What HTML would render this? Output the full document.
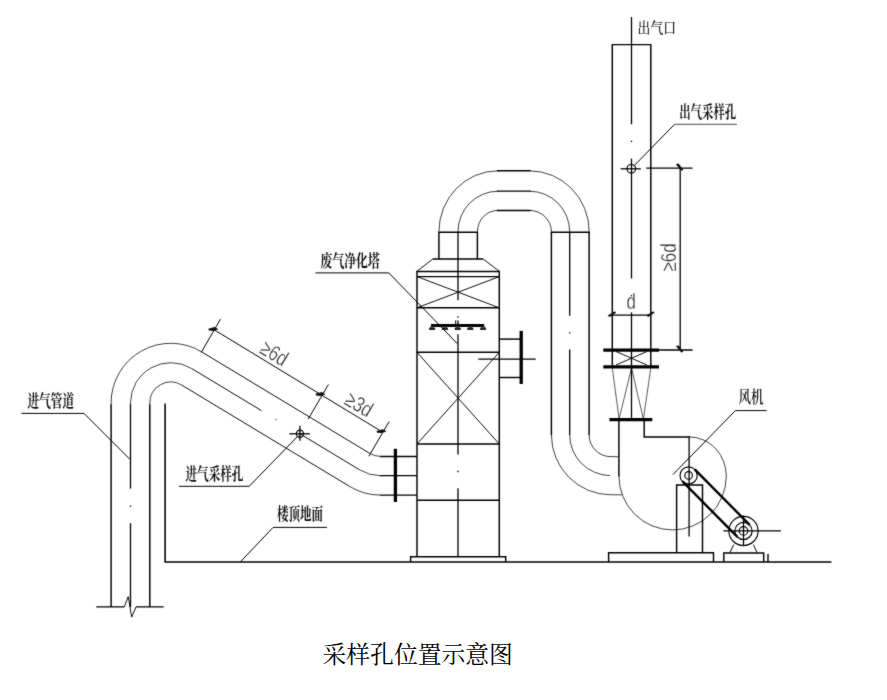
<!DOCTYPE html>
<html lang="zh-CN">
<head>
<meta charset="utf-8">
<title>采样孔位置示意图</title>
<style>
html,body{margin:0;padding:0;background:#fff;}
body{width:887px;height:700px;overflow:hidden;position:relative;}
svg{display:block;position:absolute;left:0;top:0;}
.caption{position:absolute;left:322.5px;top:637.2px;width:192px;margin:0;white-space:nowrap;line-height:36px;height:36px;font-family:"Liberation Serif","Noto Serif CJK SC",serif;font-size:23.8px;color:#000;}
svg *{fill:none;}
.h{stroke:#000;stroke-width:1.45;}
.g{stroke:#000;stroke-width:1.55;}
.c{stroke:#000;stroke-width:1.3;}
.d{stroke:#000;stroke-width:0.95;}
.a{stroke:#000;stroke-width:0.75;}
.a2{stroke:#000;stroke-width:1.15;}
.t{stroke:#000;stroke-width:1.0;}
.t2{stroke:#000;stroke-width:0.7;}
.t3{stroke:#000;stroke-width:0.65;}
.k{stroke:#000;stroke-width:3.3;}
.k2{stroke:#000;stroke-width:3.1;}
.b{stroke:#000;stroke-width:2.4;}
svg .f{fill:#111;stroke:none;}
svg .n{fill:#444;stroke:none;}
.k1{stroke:#000;stroke-width:1.7;}
svg text{fill:#111;stroke:none;}
.cj{font-family:"Liberation Serif","Noto Serif CJK SC",serif;font-size:17px;font-weight:700;}
.cj2{font-family:"Liberation Serif","Noto Serif CJK SC",serif;font-size:16.5px;font-weight:600;}
.cj3{font-family:"Liberation Serif","Noto Serif CJK SC",serif;font-size:15px;font-weight:500;}
svg .dm{font-family:"Liberation Sans",sans-serif;font-size:21.5px;fill:#1a1a1a;stroke:#fff;stroke-width:0.3;}
</style>
</head>
<body>
<svg width="887" height="700" viewBox="0 0 887 700">
<defs><filter id="soft" x="0" y="0" width="887" height="700" filterUnits="userSpaceOnUse"><feColorMatrix type="saturate" values="0"/><feConvolveMatrix order="3" kernelMatrix="0.02 0.07 0.02 0.07 0.64 0.07 0.02 0.07 0.02" divisor="1" edgeMode="duplicate" preserveAlpha="false"/></filter></defs>
<rect x="0" y="0" width="887" height="700" style="fill:#fff"/>
<g filter="url(#soft)">
<!-- inlet pipe -->
<line class="h" x1="111.10" y1="404.20" x2="111.10" y2="606.90"/>
<line class="h" x1="149.80" y1="404.20" x2="149.80" y2="606.90"/>
<line class="a" x1="111.10" y1="403.00" x2="111.10" y2="404.60"/>
<line class="a" x1="149.80" y1="403.00" x2="149.80" y2="404.60"/>
<line class="a" x1="130.50" y1="403.00" x2="130.50" y2="404.60"/>
<path class="a" d="M111.10,403.00 A59.7,59.7 0 0 1 201.63,351.88"/>
<line class="d" x1="201.63" y1="351.88" x2="369.76" y2="453.38"/>
<path class="a" d="M369.76,453.38 A21.0,21.0 0 0 0 380.60,456.40"/>
<line class="h" x1="380.10" y1="456.40" x2="416.90" y2="456.40"/>
<path class="a" d="M149.80,403.00 A21.0,21.0 0 0 1 181.64,385.02"/>
<line class="d" x1="181.64" y1="385.02" x2="349.77" y2="486.52"/>
<path class="a" d="M349.77,486.52 A59.7,59.7 0 0 0 380.60,495.10"/>
<line class="h" x1="380.10" y1="495.10" x2="416.90" y2="495.10"/>
<line class="c" x1="130.50" y1="606.90" x2="130.50" y2="523.20"/>
<line class="c" x1="130.50" y1="505.50" x2="130.50" y2="506.90"/>
<line class="c" x1="130.50" y1="488.60" x2="130.50" y2="404.20"/>
<path class="a" d="M130.50,403.00 A40.3,40.3 0 0 1 191.61,368.49"/>
<line class="d" x1="191.61" y1="368.49" x2="261.70" y2="410.76"/>
<line class="d" x1="275.40" y1="419.02" x2="276.60" y2="419.74"/>
<line class="d" x1="299.90" y1="433.79" x2="359.79" y2="469.91"/>
<path class="a" d="M359.79,469.91 A40.3,40.3 0 0 0 380.60,475.70"/>
<line class="c" x1="380.10" y1="475.70" x2="416.90" y2="475.70"/>
<circle class="a2" cx="299.90" cy="433.79" r="3.60"/>
<line class="c" x1="289.40" y1="433.79" x2="309.90" y2="433.79"/>
<line class="c" x1="299.90" y1="425.79" x2="299.90" y2="440.79"/>
<path class="t" d="M178.9,486.3 L249.2,486.3"/>
<line class="t" x1="249.20" y1="486.30" x2="298.40" y2="435.59"/>
<path class="c" d="M96.3,606.9 L124.3,606.9 M136,606.9 L163.7,606.9"/>
<path class="d" d="M124.3,606.9 L128.2,596.6 L131.7,617.1 L136,606.9"/>
<line class="k" x1="395.40" y1="448.80" x2="395.40" y2="502.00"/>
<!-- inclined dimensions -->
<line class="t" x1="214.00" y1="329.70" x2="382.20" y2="431.90"/>
<line class="t" x1="201.30" y1="352.30" x2="220.50" y2="319.10"/>
<line class="t" x1="308.20" y1="419.10" x2="328.40" y2="384.50"/>
<line class="t" x1="368.90" y1="456.20" x2="389.10" y2="421.60"/>
<path class="f" d="M208.40,328.80 L214.60,327.10 L218.40,329.30 L213.40,330.90 L208.80,330.60 Z"/>
<path class="f" d="M315.60,393.80 L321.80,392.10 L325.60,394.30 L320.60,395.90 L316.00,395.60 Z"/>
<path class="f" d="M376.60,431.00 L382.80,429.30 L386.60,431.50 L381.60,433.10 L377.00,432.80 Z"/>
<text class="dm" transform="translate(270.50,359.50) rotate(31.09)" text-anchor="middle" textLength="28.0" lengthAdjust="spacingAndGlyphs">≥6d</text>
<text class="dm" transform="translate(355.20,410.70) rotate(31.09)" text-anchor="middle" textLength="28.0" lengthAdjust="spacingAndGlyphs">≥3d</text>
<!-- roof floor line -->
<path class="g" d="M165.1,403.4 L165.1,562.0 L831.4,562.0"/>
<line class="t" x1="240.30" y1="562.00" x2="273.10" y2="527.40"/>
<line class="t" x1="273.10" y1="527.40" x2="326.90" y2="527.40"/>
<line class="t" x1="21.40" y1="413.40" x2="84.00" y2="413.40"/>
<line class="t" x1="84.00" y1="413.40" x2="129.80" y2="459.20"/>
<!-- purification tower -->
<path class="h" d="M438.9,231.8 L438.9,259 M477.4,231.8 L477.4,259 M438.3,232.2 L478,232.2"/>
<path class="h" d="M432.9,259 L483.1,259 M499.90000000000003,271.4 L416.4,271.4"/>
<line class="d" x1="432.90" y1="259.00" x2="416.80" y2="271.40"/>
<line class="d" x1="483.10" y1="259.00" x2="499.50" y2="271.40"/>
<path class="h" d="M417.0,271.4 L417.0,556.6 M499.3,271.4 L499.3,556.6"/>
<line class="h" x1="417.00" y1="276.60" x2="499.30" y2="276.60"/>
<line class="h" x1="417.00" y1="307.80" x2="499.30" y2="307.80"/>
<line class="h" x1="417.00" y1="352.30" x2="499.30" y2="352.30"/>
<line class="h" x1="417.00" y1="444.00" x2="499.30" y2="444.00"/>
<line class="h" x1="417.00" y1="500.30" x2="499.30" y2="500.30"/>
<path class="d" d="M417.0,276.6 L499.3,307.8 M499.3,276.6 L417.0,307.8"/>
<path class="d" d="M417.0,352.3 L499.3,444 M499.3,352.3 L417.0,444"/>
<path class="h" d="M410.6,562.0 L410.6,556.7 L505.7,556.7 L505.7,562.0"/>
<line class="c" x1="458.00" y1="231.80" x2="458.00" y2="300.20"/>
<line class="c" x1="458.00" y1="316.30" x2="458.00" y2="317.70"/>
<line class="c" x1="458.00" y1="320.60" x2="458.00" y2="325.00"/>
<line class="c" x1="458.00" y1="334.30" x2="458.00" y2="454.50"/>
<line class="c" x1="458.00" y1="470.80" x2="458.00" y2="472.20"/>
<line class="c" x1="458.00" y1="488.30" x2="458.00" y2="556.60"/>
<line class="k2" x1="431.00" y1="325.50" x2="484.20" y2="325.50"/>
<path class="n" d="M430.10,326.6 L429.30,328.6 L434.90,328.6 L434.10,326.6 Z"/>
<line class="k1" x1="429.10" y1="329.00" x2="435.10" y2="329.00"/>
<path class="n" d="M442.90,326.6 L442.10,328.6 L447.70,328.6 L446.90,326.6 Z"/>
<line class="k1" x1="441.90" y1="329.00" x2="447.90" y2="329.00"/>
<path class="n" d="M455.70,326.6 L454.90,328.6 L460.50,328.6 L459.70,326.6 Z"/>
<line class="k1" x1="454.70" y1="329.00" x2="460.70" y2="329.00"/>
<path class="n" d="M468.30,326.6 L467.50,328.6 L473.10,328.6 L472.30,326.6 Z"/>
<line class="k1" x1="467.30" y1="329.00" x2="473.30" y2="329.00"/>
<path class="n" d="M481.10,326.6 L480.30,328.6 L485.90,328.6 L485.10,326.6 Z"/>
<line class="k1" x1="480.10" y1="329.00" x2="486.10" y2="329.00"/>
<line class="t" x1="455.70" y1="320.20" x2="455.70" y2="324.50"/>
<line class="h" x1="499.30" y1="339.10" x2="521.20" y2="339.10"/>
<line class="h" x1="499.30" y1="377.50" x2="521.20" y2="377.50"/>
<line class="k" x1="521.20" y1="330.90" x2="521.20" y2="384.00"/>
<line class="c" x1="478.30" y1="359.10" x2="535.70" y2="359.10"/>
<line class="t" x1="315.40" y1="272.90" x2="388.80" y2="272.90"/>
<line class="t" x1="388.80" y1="272.90" x2="457.40" y2="343.70"/>
<!-- U bend -->
<path class="a" d="M438.9,231.8 A59.10,61.0 0 0 1 498.0,170.80"/>
<line class="h" x1="497.00" y1="170.80" x2="530.50" y2="170.80"/>
<path class="a" d="M529.5,170.80 A59.70,61.0 0 0 1 589.2,231.8"/>
<path class="a" d="M458.0,231.8 A40.00,40.6 0 0 1 498.0,191.20"/>
<line class="c" x1="497.00" y1="191.20" x2="530.50" y2="191.20"/>
<path class="a" d="M529.5,191.20 A40.20,40.6 0 0 1 569.7,231.8"/>
<path class="a" d="M477.4,231.8 A20.60,21.4 0 0 1 498.0,210.40"/>
<line class="h" x1="497.00" y1="210.40" x2="530.50" y2="210.40"/>
<path class="a" d="M529.5,210.40 A21.90,21.4 0 0 1 551.4,231.8"/>
<line class="h" x1="550.80" y1="232.20" x2="589.80" y2="232.20"/>
<line class="h" x1="551.40" y1="231.80" x2="551.40" y2="435.00"/>
<line class="h" x1="589.10" y1="231.80" x2="589.10" y2="435.00"/>
<path class="a" d="M551.4,435.0 A59.60,59.8 0 0 0 611.0,494.8 L622,494.8"/>
<path class="a" d="M589.1,435.0 A21.90,21.7 0 0 0 611.0,456.7 L618.9,456.7"/>
<line class="c" x1="569.70" y1="231.80" x2="569.70" y2="315.70"/>
<line class="c" x1="569.70" y1="332.20" x2="569.70" y2="333.60"/>
<line class="c" x1="569.70" y1="349.50" x2="569.70" y2="435.00"/>
<path class="a" d="M569.7,435.0 A41.30,40.6 0 0 0 610.0,475.6"/>
<!-- exhaust stack -->
<path class="h" d="M612.3,366.6 L612.3,44.6 L650.8,44.6 L650.8,366.6"/>
<line class="c" x1="631.50" y1="17.10" x2="631.50" y2="124.30"/>
<line class="c" x1="631.50" y1="140.70" x2="631.50" y2="142.10"/>
<line class="c" x1="631.50" y1="158.60" x2="631.50" y2="278.50"/>
<line class="c" x1="631.50" y1="295.00" x2="631.50" y2="296.40"/>
<line class="c" x1="631.50" y1="312.40" x2="631.50" y2="419.70"/>
<circle class="a2" cx="631.30" cy="168.80" r="4.30"/>
<line class="c" x1="620.60" y1="168.80" x2="640.80" y2="168.80"/>
<line class="t" x1="634.20" y1="165.60" x2="674.60" y2="124.30"/>
<line class="t2" x1="674.60" y1="124.30" x2="737.10" y2="124.30"/>
<line class="c" x1="646.30" y1="168.20" x2="692.60" y2="168.20"/>
<line class="c" x1="659.00" y1="350.00" x2="692.60" y2="350.00"/>
<line class="c" x1="680.20" y1="168.20" x2="680.20" y2="350.00"/>
<path class="f" d="M675.8,164.2 L678.6,163.6 L683.4,170.0 L681.2,170.79999999999998 Z"/>
<path class="f" d="M675.8,346.0 L678.6,345.4 L683.4,351.8 L681.2,352.6 Z"/>
<text class="dm" transform="translate(675.8,257.4) rotate(-90)" text-anchor="middle" textLength="28.0" lengthAdjust="spacingAndGlyphs">≥6d</text>
<line class="c" x1="612.30" y1="315.10" x2="650.80" y2="315.10"/>
<path class="f" d="M607.70,315.4 L614.90,311.2 L616.10,312.8 L609.70,317.0 Z"/>
<path class="f" d="M646.20,315.4 L653.40,311.2 L654.60,312.8 L648.20,317.0 Z"/>
<text class="dm" x="631.1" y="308.7" text-anchor="middle" textLength="9.4" lengthAdjust="spacingAndGlyphs">d</text>
<line class="k" x1="603.30" y1="350.10" x2="659.00" y2="350.10"/>
<line class="k" x1="603.30" y1="366.90" x2="659.00" y2="366.90"/>
<path class="d" d="M616,351.5 L647,365 M647,351.5 L616,365"/>
<path class="t3" d="M612.3,368 L619.1,419 M650.8,368 L643.4,419 M631.5,368 L619.1,419 M631.5,368 L643.4,419"/>
<line class="k" x1="609.40" y1="419.70" x2="652.30" y2="419.70"/>
<!-- fan -->
<line class="h" x1="618.90" y1="419.70" x2="618.90" y2="476.50"/>
<path class="a" d="M618.9,476 A53.7,54 0 0 0 726.3,476"/>
<path class="h" d="M644.2,419.7 L644.2,436.9 L689.1,436.9"/>
<path class="a" d="M689.1,436.9 A37.2,39.1 0 0 1 726.3,476"/>
<line class="c" x1="689.10" y1="436.00" x2="689.10" y2="536.50"/>
<circle class="a2" cx="688.60" cy="475.40" r="8.60"/>
<circle class="a2" cx="688.60" cy="475.40" r="3.80"/>
<path class="h" d="M676.6,552.8 L676.6,485 L702.5,485 L702.5,552.8"/>
<path class="h" d="M608.6,562.0 L608.6,552.8 L713.5,552.8 L713.5,562.0"/>
<path class="h" d="M723.8,562.0 L723.8,553 L763.7,553 L763.7,562.0"/>
<line class="h" x1="768.00" y1="554.00" x2="768.00" y2="562.00"/>
<circle class="a2" cx="743.50" cy="530.90" r="14.60"/>
<circle class="a2" cx="743.50" cy="530.90" r="8.60"/>
<circle class="a2" cx="743.50" cy="530.90" r="4.30"/>
<line class="c" x1="723.40" y1="530.90" x2="780.90" y2="530.90"/>
<line class="c" x1="743.50" y1="515.40" x2="743.50" y2="546.30"/>
<path class="t" d="M733.7,544.6 L729.8,552.8 M753.4,544.6 L757.2,552.8"/>
<line class="b" x1="694.71" y1="469.35" x2="749.61" y2="524.85"/>
<line class="b" x1="682.49" y1="481.45" x2="737.39" y2="536.95"/>
<line class="t" x1="672.90" y1="474.60" x2="735.40" y2="410.60"/>
<line class="t" x1="735.40" y1="410.60" x2="766.60" y2="410.60"/>
<!-- labels -->
<text class="cj" x="27.40" y="407.00" textLength="46.7" lengthAdjust="spacingAndGlyphs">进气管道</text>
<text class="cj" x="185.40" y="480.00" textLength="58.1" lengthAdjust="spacingAndGlyphs">进气采样孔</text>
<text class="cj" x="277.10" y="520.30" textLength="46.0" lengthAdjust="spacingAndGlyphs">楼顶地面</text>
<text class="cj" x="320.60" y="267.00" textLength="59.1" lengthAdjust="spacingAndGlyphs">废气净化塔</text>
<text class="cj3" x="637.60" y="33.20" textLength="38.4" lengthAdjust="spacingAndGlyphs">出气口</text>
<text class="cj" x="679.20" y="118.20" textLength="57.1" lengthAdjust="spacingAndGlyphs">出气采样孔</text>
<text class="cj2" x="738.60" y="403.00" textLength="25.0" lengthAdjust="spacingAndGlyphs">风机</text>
</g>
</svg>
<p class="caption">采样孔位置示意图</p>
</body>
</html>
